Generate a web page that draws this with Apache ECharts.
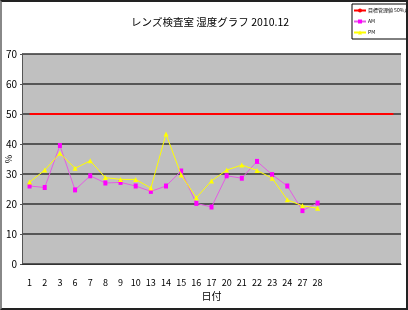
<!DOCTYPE html>
<html><head><meta charset="utf-8">
<script src="https://cdn.jsdelivr.net/npm/echarts@6/dist/echarts.min.js"></script>
<style>
html,body{margin:0;padding:0;background:#fff;}
#c{width:408px;height:310px;box-sizing:border-box;border:2px solid #222;border-left-color:#888;}
</style></head>
<body><div id="c"></div>
<script>
const categories = ['1','2','3','6','7','8','9','10','13','14','15','16','17','20','21','22','23','24','27','28','','','','',''];
const amValues = [26,25.5,39.5,24.7,29.4,27,27.2,26,24.2,26,31,20.2,19,29.4,28.6,34.2,29.8,26,17.8,20.3];
const pmValues = [27.3,31.3,36.9,31.9,34.4,28.8,28.2,28.2,25.3,43.3,29.7,22.1,27.7,31.3,33,31.2,28.6,21.4,19.4,18.6];
const targetValues = categories.map(() => 50);
const yTicks = {min:0, max:70, interval:10};
const title = 'レンズ検査室 湿度グラフ 2010.12';
const names = ['目標管理値 50%以下','AM','PM'];

const chart = echarts.init(document.getElementById('c'), null, {renderer:'canvas'});
const numFont = '"Liberation Sans Narrow","Noto Sans CJK JP",sans-serif';
chart.setOption({
  animation:false,
  backgroundColor:'#fff',
  title:{text:title,left:203,textAlign:'center',top:10,
    textStyle:{fontFamily:'"Noto Sans CJK JP",sans-serif',fontSize:10.5,fontWeight:'normal',color:'#000'}},
  legend:{orient:'vertical',left:350,top:2,
    backgroundColor:'#fff',borderColor:'#000',borderWidth:1,padding:[4,1,4,1],
    itemWidth:12,itemHeight:5,itemGap:6,
    textStyle:{fontSize:5,color:'#000',fontFamily:'"Noto Sans CJK JP",sans-serif',padding:[0,0,0,-3]},
    data:names},
  grid:{left:20,right:5,top:52,bottom:44,backgroundColor:'#c0c0c0',show:true,borderWidth:0,outerBoundsMode:'none',containLabel:false},
  xAxis:{type:'category',data:categories,boundaryGap:true,
    name:'日付',nameLocation:'middle',nameGap:27,nameMoveOverlap:false,
    nameTextStyle:{fontFamily:'"Noto Sans CJK JP",sans-serif',fontSize:10,color:'#000'},
    axisLine:{lineStyle:{color:'#333',width:1}},
    axisTick:{inside:true,length:3,interval:0,lineStyle:{color:'#333'}},
    axisLabel:{interval:0,fontSize:9,color:'#000',margin:14,fontFamily:numFont}},
  yAxis:{type:'value',min:yTicks.min,max:yTicks.max,interval:yTicks.interval,
    name:'%',nameLocation:'middle',nameGap:9,nameRotate:90,nameMoveOverlap:false,
    nameTextStyle:{fontSize:9,color:'#000',fontFamily:numFont},
    axisLine:{show:true,lineStyle:{color:'#555',width:1}},
    axisTick:{show:true,length:2,lineStyle:{color:'#555'}},
    axisLabel:{fontSize:10,color:'#000',margin:5,fontFamily:numFont},
    splitLine:{lineStyle:{color:'#333',width:1.5}}},
  series:[
    {name:names[0],type:'line',data:targetValues,symbol:'none',
      lineStyle:{color:'#ff0000',width:2},itemStyle:{color:'#ff0000'},z:3},
    {name:names[1],type:'line',data:amValues,symbol:'rect',symbolSize:[4,5],showSymbol:true,
      lineStyle:{color:'#e45ce4',width:1},itemStyle:{color:'#ff00ff'},z:4},
    {name:names[2],type:'line',data:pmValues,symbol:'triangle',symbolSize:5,showSymbol:true,
      lineStyle:{color:'#ffff00',width:1},itemStyle:{color:'#ffff00'},z:5}
  ]
});
</script></body></html>
